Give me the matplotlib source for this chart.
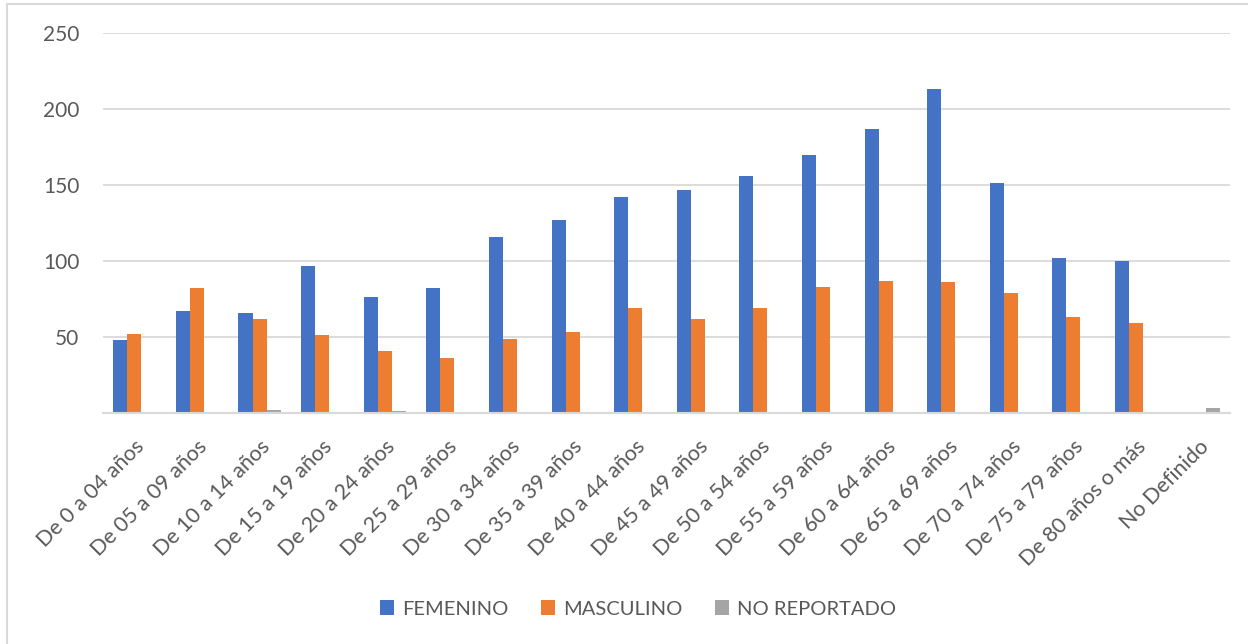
import numpy as np
import matplotlib.pyplot as plt
from matplotlib.lines import Line2D

plt.rcParams['font.family'] = ['Lato', 'DejaVu Sans']

# age groups
categories = ["De 0 a 04 años", "De 05 a 09 años", "De 10 a 14 años", "De 15 a 19 años",
              "De 20 a 24 años", "De 25 a 29 años", "De 30 a 34 años", "De 35 a 39 años",
              "De 40 a 44 años", "De 45 a 49 años", "De 50 a 54 años", "De 55 a 59 años",
              "De 60 a 64 años", "De 65 a 69 años", "De 70 a 74 años", "De 75 a 79 años",
              "De 80 años o más", "No Definido"]
femenino = [48, 67, 66, 97, 76, 82, 116, 127, 142, 147, 156, 170, 187, 213, 151, 102, 100, 0]
masculino = [52, 82, 62, 51, 41, 36, 49, 53, 69, 62, 69, 83, 87, 86, 79, 63, 59, 0]
no_reportado = [0, 0, 2, 0, 1, 0, 0, 0, 0, 0, 0, 0, 0, 0, 0, 0, 0, 3]

series = [("FEMENINO", femenino, "#4472C4"),
          ("MASCULINO", masculino, "#ED7D31"),
          ("NO REPORTADO", no_reportado, "#A5A5A5")]

W, H = 1248, 644
fig = plt.figure(figsize=(W / 100, H / 100), dpi=100)
ax = fig.add_axes([103 / W, 1 - 413 / H, (1230 - 103) / W, (413 - 33) / H])

x = np.arange(len(categories))
bw = 0.224
for k, (name, vals, col) in enumerate(series):
    ax.bar(x + (k - 1) * bw, vals, width=bw, color=col, label=name, zorder=3)

ax.set_xlim(-0.5, len(categories) - 0.5)
ax.set_ylim(0, 250)
ax.set_yticks([50, 100, 150, 200, 250])
ax.yaxis.grid(True, color="#D9D9D9", linewidth=1.3, zorder=0)
for s in ["top", "right", "left"]:
    ax.spines[s].set_visible(False)
ax.spines["bottom"].set_color("#D9D9D9")
ax.spines["bottom"].set_linewidth(1.5)
ax.spines["bottom"].set_zorder(4)
ax.tick_params(axis="both", length=0, colors="#595959")
ax.tick_params(axis="y", pad=17, labelsize=15)
ax.set_xticks(x)
ax.set_xticklabels(categories, rotation=45, ha="right", rotation_mode="anchor")
ax.tick_params(axis="x", pad=17, labelsize=15.5)

leg = fig.legend(loc="center", bbox_to_anchor=(638 / W, 1 - 609 / H), ncol=3, frameon=False,
                 fontsize=14.5, handlelength=0.7, handleheight=0.7, columnspacing=1.6,
                 handletextpad=0.4)
for t in leg.get_texts():
    t.set_color("#595959")

# outer chart frame (cropped at right and bottom)
fig.add_artist(Line2D([7 / W, 1], [1 - 4 / H, 1 - 4 / H], color="#D9D9D9", linewidth=1.5))
fig.add_artist(Line2D([7 / W, 7 / W], [0, 1 - 4 / H], color="#D9D9D9", linewidth=1.5))

fig.savefig("out.png", dpi=100)
